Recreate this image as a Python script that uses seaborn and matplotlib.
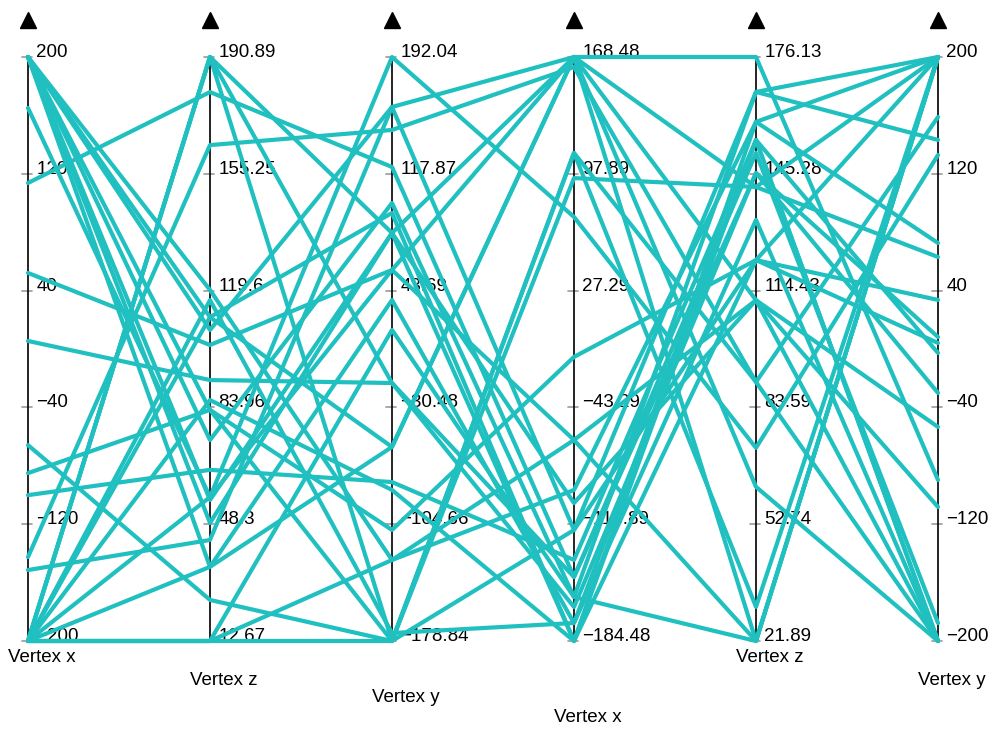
import numpy as np
import pandas as pd
import matplotlib
matplotlib.use("Agg")
import matplotlib.pyplot as plt
import seaborn as sns

# Parallel-coordinate axes: name, range and tick labels
axis_names = ["Vertex x", "Vertex z", "Vertex y", "Vertex x", "Vertex z", "Vertex y"]
axis_min = [-200, 12.67, -178.84, -184.48, 21.89, -200]
axis_max = [200, 190.89, 192.04, 168.48, 176.13, 200]
tick_labels = [
    ["200", "120", "40", "\u221240", "\u2212120", "\u2212200"],
    ["190.89", "155.25", "119.6", "83.96", "48.3", "12.67"],
    ["192.04", "117.87", "43.69", "\u221230.48", "\u2212104.66", "\u2212178.84"],
    ["168.48", "97.89", "27.29", "\u221243.29", "\u2212113.89", "\u2212184.48"],
    ["176.13", "145.28", "114.43", "83.59", "52.74", "21.89"],
    ["200", "120", "40", "\u221240", "\u2212120", "\u2212200"],
]

# One value per polyline on each axis
vertex_x_1 = [200, 200, 200, 200, 200, 200, 200, 200, 165.1, 113.7, 52.1, 5.5, -65.8, -85.0,
              -100.1, -142.5, -151.4, -200, -200, -200, -200, -200, -200, -200, -200, -200, -200, -200]
vertex_z_1 = [107.6, 83.2, 55.7, 35.3, 74.0, 111.5, 119.8, 48.7, 56.6, 180.2, 103.0, 92.3, 25.2, 83.2,
              64.9, 164.0, 43.5, 190.89, 190.89, 190.89, 116.7, 111.5, 35.3, 12.67, 12.67, 56.6, 12.67, 86.2]
vertex_y_1 = [160.3, -178.84, 80.3, 37.7, 99.3, -55.6, -127.4, 80.3, 192.04, 122.2, 56.8, -15.0, -178.84, -108.3,
              -77.9, 145.7, 160.3, -178.84, 80.3, -15.0, -173.8, 93.0, -55.6, -178.84, -127.4, 56.8, 18.7, -82.9]
vertex_x_2 = [168.48, 110.5, 168.48, -173.6, -157.9, 168.48, -93.2, -184.48, 71.8, -145.8, 168.48, -163.9, 95.3, -12.8,
              -135.5, 162.4, -117.4, 110.5, -101.1, -145.8, -173.6, -184.48, 168.48, -117.4, -63.0, -63.0, -157.9, -184.48]
vertex_z_2 = [176.13, 90.3, 141.8, 154.2, 166.9, 111.9, 159.0, 159.0, 72.9, 150.8, 21.89, 145.5, 141.8, 122.5,
              154.2, 90.3, 166.9, 30.9, 111.9, 145.5, 133.1, 154.2, 62.6, 122.5, 21.89, 111.9, 21.89, 122.5]
vertex_y_2 = [-89.7, -200, 200, -200, 200, -200, 200, 72.6, 132.9, -187.7, 200, 8.2, 63.0, 200,
              -200, 158.9, 143.2, 200, -53.4, -30.1, -200, -2.7, -200, 33.6, 200, -108.2, 200, 4.1]

columns = [vertex_x_1, vertex_z_1, vertex_y_1, vertex_x_2, vertex_z_2, vertex_y_2]

# Long-form table with each axis scaled to its own [min, max]
records = []
for i, (vals, lo, hi) in enumerate(zip(columns, axis_min, axis_max)):
    for k, v in enumerate(vals):
        records.append({"line": k, "pos": i, "norm": (v - lo) / (hi - lo)})
df = pd.DataFrame(records)

sns.set_style("white")
fig = plt.figure(figsize=(9.95, 7.29), dpi=100)
ax = fig.add_axes([0, 0, 1, 1])

line_color = "#20c0c0"
sns.lineplot(data=df, x="pos", y="norm", units="line", estimator=None, sort=False,
             color=line_color, linewidth=3.0, legend=False, ax=ax, zorder=3)

ax.set_xlim(-0.1538, 5.3132)
ax.set_ylim(-0.15068, 1.0976)
ax.axis("off")

font = ["Liberation Sans", "DejaVu Sans"]
tick_pos = np.linspace(1, 0, 6)
label_offsets = [-0.0291, -0.0668, -0.0959, -0.1318, -0.0291, -0.0668]
for i in range(6):
    ax.plot([i, i], [0, 1], color="black", lw=1.2, zorder=2)
    for t, lab in zip(tick_pos, tick_labels[i]):
        ax.plot([i - 0.035, i + 0.02], [t, t], color="#999999", lw=1.2, zorder=1)
        ax.text(i + 0.045, t, lab, ha="left", va="baseline", fontsize=13.5,
                family=font, color="black", zorder=1)
    ax.text(i - 0.11, label_offsets[i], axis_names[i], ha="left", va="center",
            fontsize=13.5, family=font, color="black")
    ax.plot([i], [1.0634], marker="^", color="black", markersize=11, zorder=4)

fig.savefig("out.png", dpi=100)
